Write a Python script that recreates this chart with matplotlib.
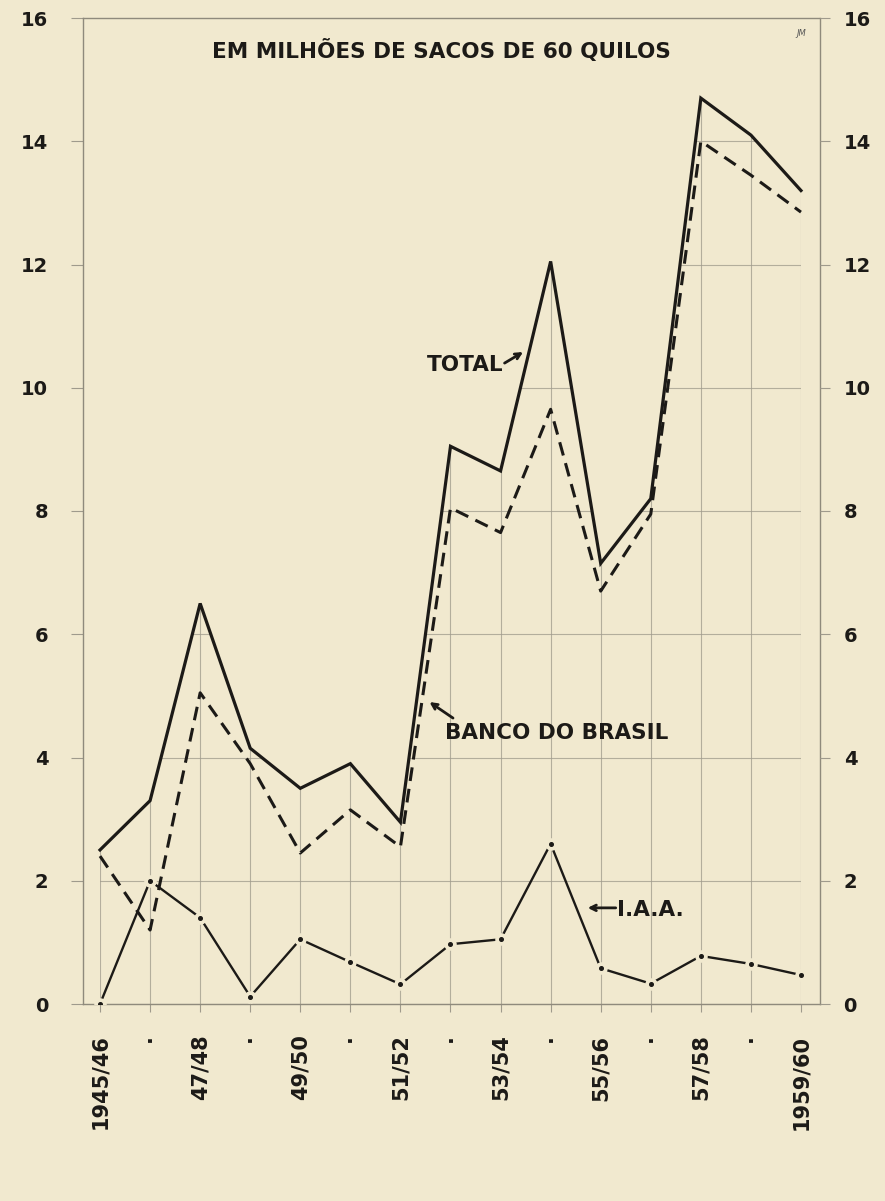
import matplotlib
matplotlib.use("Agg")
import matplotlib.pyplot as plt
import numpy as np

# ---- data -------------------------------------------------------------
seasons = ["1945/46", "1946/47", "1947/48", "1948/49", "1949/50", "1950/51",
           "1951/52", "1952/53", "1953/54", "1954/55", "1955/56", "1956/57",
           "1957/58", "1958/59", "1959/60"]
tick_labels = ["1945/46", "·", "47/48", "·", "49/50", "·", "51/52", "·",
               "53/54", "·", "55/56", "·", "57/58", "·", "1959/60"]
total = [2.5, 3.3, 6.5, 4.15, 3.5, 3.9, 2.95, 9.05, 8.65, 12.05, 7.15, 8.2,
         14.7, 14.1, 13.2]
banco_do_brasil = [2.4, 1.2, 5.05, 3.9, 2.45, 3.15, 2.55, 8.05, 7.65, 9.65,
                   6.7, 7.95, 14.0, 13.45, 12.85]
iaa = [0.0, 2.0, 1.4, 0.12, 1.05, 0.68, 0.32, 0.97, 1.05, 2.6, 0.58, 0.33,
       0.78, 0.65, 0.47]
y_ticks = [0, 2, 4, 6, 8, 10, 12, 14, 16]

title = "EM MILHÕES DE SACOS DE 60 QUILOS"

# ---- style ------------------------------------------------------------
BG = "#f1e9cf"
INK = "#1c1a17"
GRID = "#9f9a8c"
plt.rcParams["font.family"] = ["DejaVu Sans"]

W, H = 885, 1201
fig = plt.figure(figsize=(W / 100, H / 100), dpi=100, facecolor=BG)
L, R, T, B = 83, 820, 18, 1004
ax = fig.add_axes([L / W, 1 - B / H, (R - L) / W, (B - T) / H], facecolor=BG)

x = np.arange(len(seasons))
ax.set_xlim(-0.34, 14.38)
ax.set_ylim(0, 16)

# grid (drawn only beneath the total curve, as in the hand-drawn original)
ax.set_xticks(x)
ax.set_yticks(y_ticks)
ax.grid(True, color=GRID, lw=0.8, alpha=0.75)
ax.set_axisbelow(True)
area = ax.fill_between(x, 0, total, facecolor="none", edgecolor="none")
clip = area.get_paths()[0]
for gl in ax.get_xgridlines() + ax.get_ygridlines():
    gl.set_clip_path(clip, ax.transData)

for s in ax.spines.values():
    s.set_color("#8f8a7c")
    s.set_linewidth(1.0)
ax.spines["left"].set_linestyle((0, (2, 1)))
ax.spines["top"].set_linestyle((0, (2, 1)))

# lines
ax.plot(x, total, color=INK, lw=2.3, solid_joinstyle="miter", zorder=4)
ax.plot(x, banco_do_brasil, color=INK, lw=2.2, ls=(0, (4.5, 2.6)), zorder=4)
ax.plot(x, iaa, color=INK, lw=1.7, zorder=4)
ax.plot(x, iaa, ls="none", marker="o", ms=8, mfc=BG, mec=BG, zorder=5)
ax.plot(x, iaa, ls="none", marker="o", ms=2.6, mfc=INK, mec=INK, zorder=6)

# ticks / labels
ax.set_xticklabels(tick_labels, rotation=90, va="top", ha="center",
                   fontsize=15, fontweight="bold", color=INK)
ax.tick_params(axis="x", length=6, color=GRID, pad=16)
ax.set_yticklabels([str(v) for v in y_ticks], fontsize=14,
                   fontweight="bold", color=INK)
ax.tick_params(axis="y", length=9, color=GRID, pad=16)

ax2 = ax.twinx()
ax2.set_ylim(0, 16)
ax2.set_yticks(y_ticks)
ax2.set_yticklabels([str(v) for v in y_ticks], fontsize=14,
                    fontweight="bold", color=INK)
ax2.tick_params(axis="y", length=7, color=GRID, pad=10)
for s in ax2.spines.values():
    s.set_visible(False)

# annotations
txt_kw = dict(fontsize=15.5, fontweight="bold", color=INK)
arrow_kw = dict(arrowstyle="->", lw=2, color=INK, shrinkA=0, shrinkB=0)
ax.text(6.81, 15.47, title, ha="center", va="center", **txt_kw)
ax.text(14.0, 15.75, "JM", ha="center", va="center", fontsize=6,
        style="italic", color="#555")

ax.text(8.05, 10.37, "TOTAL", ha="right", va="center", **txt_kw)
ax.annotate("", xy=(8.45, 10.58), xytext=(8.08, 10.40), arrowprops=arrow_kw)

ax.text(6.89, 4.40, "BANCO DO BRASIL", ha="left", va="center", **txt_kw)
ax.annotate("", xy=(6.58, 4.90), xytext=(7.05, 4.64), arrowprops=arrow_kw)

ax.text(10.33, 1.52, "I.A.A.", ha="left", va="center", **txt_kw)
ax.annotate("", xy=(9.74, 1.56), xytext=(10.3, 1.56), arrowprops=arrow_kw)

fig.savefig("out.png", dpi=100, facecolor=BG)
